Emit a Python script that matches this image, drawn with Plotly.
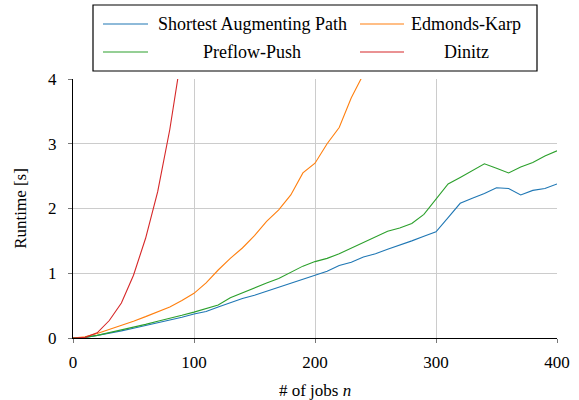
import plotly.graph_objects as go

jobs = list(range(0, 401, 10))

sap = [0, 0.01, 0.04, 0.07, 0.11, 0.15, 0.19, 0.24, 0.28, 0.32, 0.37, 0.41, 0.48, 0.55, 0.61,
       0.66, 0.72, 0.78, 0.85, 0.91, 0.97, 1.03, 1.12, 1.17, 1.25, 1.30, 1.37, 1.43, 1.50,
       1.57, 1.64, 1.86, 2.08, 2.16, 2.23, 2.32, 2.31, 2.21, 2.28, 2.31, 2.38]

preflow = [0, 0.01, 0.04, 0.08, 0.12, 0.17, 0.21, 0.26, 0.30, 0.35, 0.40, 0.45, 0.51, 0.62,
           0.70, 0.77, 0.85, 0.92, 1.02, 1.11, 1.18, 1.23, 1.30, 1.39, 1.48, 1.57, 1.65, 1.70,
           1.77, 1.91, 2.15, 2.38, 2.48, 2.58, 2.69, 2.62, 2.55, 2.64, 2.71, 2.81, 2.89]

edmonds_jobs = list(range(0, 261, 10))
edmonds = [0, 0.02, 0.07, 0.13, 0.19, 0.26, 0.33, 0.40, 0.48, 0.58, 0.69, 0.85, 1.05, 1.23,
           1.39, 1.58, 1.80, 1.98, 2.21, 2.55, 2.70, 3.00, 3.25, 3.71, 4.08, 4.45, 4.80]

dinitz_jobs = list(range(0, 101, 10))
dinitz = [0, 0.01, 0.08, 0.27, 0.54, 0.97, 1.54, 2.26, 3.22, 4.40, 5.60]

names = ["Shortest Augmenting Path", "Edmonds-Karp", "Preflow-Push", "Dinitz"]
colors = ["#1f77b4", "#ff7f0e", "#2ca02c", "#d62728"]

series = [(jobs, sap), (edmonds_jobs, edmonds), (jobs, preflow), (dinitz_jobs, dinitz)]

FONT = "'Times New Roman', 'Liberation Serif', 'DejaVu Serif', serif"
FS = 17

# figure geometry (pixels)
W, H = 579, 400
ML, MR, MT, MB = 73, 22, 79, 62
PW, PH = W - ML - MR, H - MT - MB


def px2x(px):
    return (px - ML) / PW


def py2y(py):
    return (H - MB - py) / PH


fig = go.Figure()
for (xs, ys), name, c in zip(series, names, colors):
    fig.add_trace(go.Scatter(x=xs, y=ys, mode="lines", name=name, showlegend=False,
                             line=dict(color=c, width=1.1)))

axis_common = dict(
    showgrid=True, gridcolor="#cccccc", gridwidth=1,
    showline=True, linecolor="black", linewidth=1.2,
    ticks="outside", ticklen=4, tickcolor="#777777", tickwidth=1.2,
    zeroline=False, automargin=False,
    tickfont=dict(size=FS, color="black", family=FONT),
)

fig.update_xaxes(range=[0, 400], tickvals=[0, 100, 200, 300, 400], ticklabelstandoff=4,
                 **axis_common,
                 title=dict(text="# of jobs <i>n</i>", font=dict(size=FS, family=FONT, color="black"),
                            standoff=18))
fig.update_yaxes(range=[0, 4], tickvals=[0, 1, 2, 3, 4], ticklabelstandoff=8, **axis_common,
                 title=dict(text="Runtime [s]", font=dict(size=FS, family=FONT, color="black"),
                            standoff=17))

# manual legend (box, line samples, centred labels)
shapes = [dict(type="rect", xref="paper", yref="paper",
               x0=px2x(93), x1=px2x(537), y0=py2y(71), y1=py2y(5),
               line=dict(color="black", width=1.2), fillcolor="white", layer="above")]
annotations = []
col_line = [(103, 148), (360, 404)]
col_text_center = [252, 466]
row_y = [24, 52]
for i, (name, c) in enumerate(zip(names, colors)):
    col, row = i % 2, i // 2
    lx0, lx1 = col_line[col]
    yy = py2y(row_y[row])
    shapes.append(dict(type="line", xref="paper", yref="paper",
                       x0=px2x(lx0), x1=px2x(lx1), y0=yy, y1=yy,
                       line=dict(color=c, width=1.1), layer="above"))
    annotations.append(dict(text=name, xref="paper", yref="paper",
                            x=px2x(col_text_center[col]), y=yy, xanchor="center", yanchor="middle",
                            showarrow=False, font=dict(size=18, family=FONT, color="black")))

fig.update_layout(
    width=W, height=H,
    margin=dict(l=ML, r=MR, t=MT, b=MB),
    plot_bgcolor="white", paper_bgcolor="white",
    font=dict(family=FONT, size=FS, color="black"),
    shapes=shapes, annotations=annotations,
    showlegend=False,
)

fig.write_html("out.html")
